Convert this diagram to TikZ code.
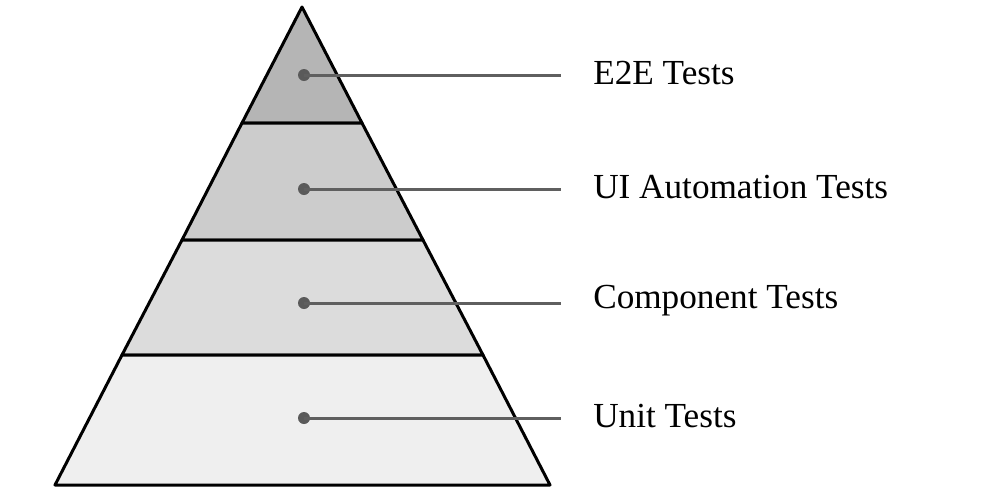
\documentclass[tikz,border=0pt]{standalone}
\usepackage{fontspec}
\setmainfont{Liberation Serif}
\begin{document}
\begin{tikzpicture}[x=0.75pt,y=0.75pt,yscale=-1,xscale=1]
	\useasboundingbox (0,0) rectangle (985,490);
	% layers of the pyramid
	\draw [fill={rgb, 255:red, 181; green, 181; blue, 181 }, line width=2.25pt, line join=round] (302,7) -- (362,123) -- (242,123) -- cycle ;
	\draw [fill={rgb, 255:red, 204; green, 204; blue, 204 }, line width=2.25pt, line join=round] (242,123) -- (362,123) -- (423,240) -- (182,240) -- cycle ;
	\draw [fill={rgb, 255:red, 220; green, 220; blue, 220 }, line width=2.25pt, line join=round] (182,240) -- (423,240) -- (483,355) -- (122,355) -- cycle ;
	\draw [fill={rgb, 255:red, 239; green, 239; blue, 239 }, line width=2.25pt, line join=round] (122,355) -- (483,355) -- (550,485) -- (55,485) -- cycle ;
	% dots and leader lines
	\node (e2e) [circle, fill={rgb, 255:red, 90; green, 90; blue, 90 }, inner sep=0pt, minimum size=9pt] at (304,75) {};
	\node (ui) [circle, fill={rgb, 255:red, 90; green, 90; blue, 90 }, inner sep=0pt, minimum size=9pt] at (304,189) {};
	\node (comp) [circle, fill={rgb, 255:red, 90; green, 90; blue, 90 }, inner sep=0pt, minimum size=9pt] at (304,303) {};
	\node (unit) [circle, fill={rgb, 255:red, 90; green, 90; blue, 90 }, inner sep=0pt, minimum size=9pt] at (304,418) {};
	\coordinate (e2eEnd) at (561,75);
	\coordinate (uiEnd) at (561,189);
	\coordinate (compEnd) at (561,303);
	\coordinate (unitEnd) at (561,418);
	\draw [color={rgb, 255:red, 95; green, 95; blue, 95 }, line width=2.25pt] (e2e.center) -- (e2eEnd) ;
	\draw [color={rgb, 255:red, 95; green, 95; blue, 95 }, line width=2.25pt] (ui.center) -- (uiEnd) ;
	\draw [color={rgb, 255:red, 95; green, 95; blue, 95 }, line width=2.25pt] (comp.center) -- (compEnd) ;
	\draw [color={rgb, 255:red, 95; green, 95; blue, 95 }, line width=2.25pt] (unit.center) -- (unitEnd) ;
	% labels
	\node (e2eLabel) [anchor=west, inner sep=0pt, font=\fontsize{26.4}{31}\selectfont] at (593,73) {E2E Tests};
	\node (uiLabel) [anchor=west, inner sep=0pt, font=\fontsize{26.4}{31}\selectfont] at (593,187) {UI Automation Tests};
	\node (compLabel) [anchor=west, inner sep=0pt, font=\fontsize{26.4}{31}\selectfont] at (593,301) {Component Tests};
	\node (unitLabel) [anchor=west, inner sep=0pt, font=\fontsize{26.4}{31}\selectfont] at (593,416) {Unit Tests};
\end{tikzpicture}
\end{document}
